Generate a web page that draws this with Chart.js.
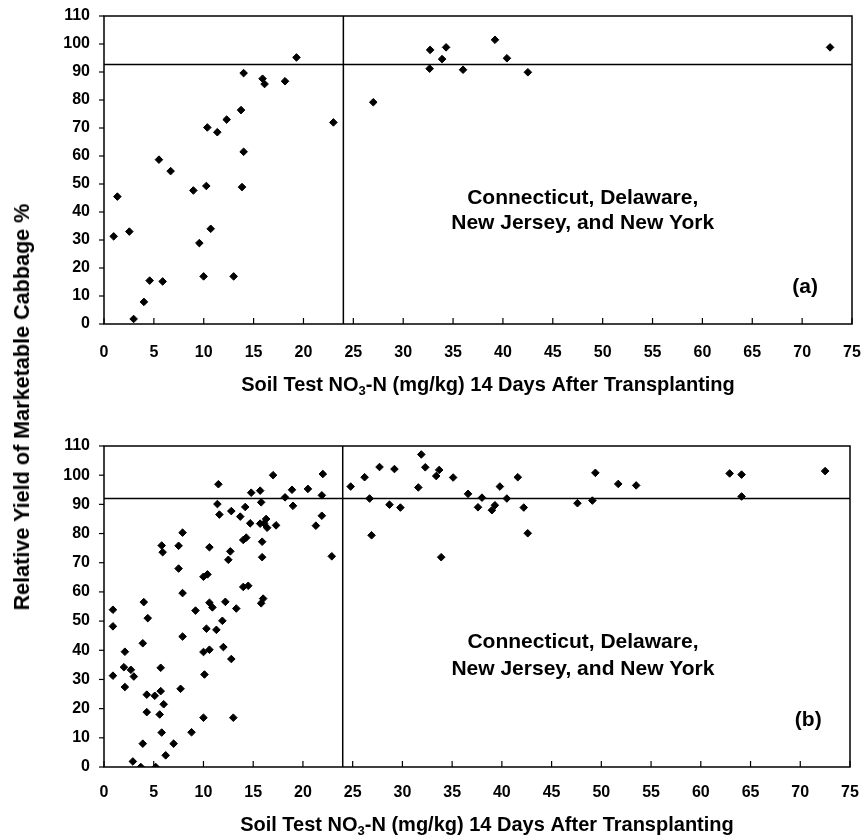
<!DOCTYPE html>
<html>
<head>
<meta charset="utf-8">
<script src="https://cdn.jsdelivr.net/npm/chart.js@4.4.1/dist/chart.umd.min.js"></script>
<style>
  body { margin: 0; background: #fff; width: 867px; height: 836px; position: relative; overflow: hidden;
         font-family: "Liberation Sans", Arial, sans-serif; }
  #wrapA { position: absolute; left: 0; top: 0; }
  #wrapB { position: absolute; left: 0; top: 405px; }
  #ytitle { position: absolute; left: 22px; top: 407px; transform: translate(-50%, -50%) rotate(-90deg);
            white-space: nowrap; font-weight: bold; font-size: 21.6px; color: #000; }
</style>
</head>
<body>
<div id="wrapA"><canvas id="chartA" width="867" height="405"></canvas></div>
<div id="wrapB"><canvas id="chartB" width="867" height="431"></canvas></div>
<div id="ytitle">Relative Yield of Marketable Cabbage %</div>
<script>
// --- donnees ---
// (a) : soil NO3-N (mg/kg) et rendement relatif (%)
const soilA = [0.97, 1.34, 2.54, 2.97, 4.0, 4.58, 5.88, 5.51, 6.68, 8.96, 9.56, 9.99, 10.26, 10.36, 10.7,
  11.36, 12.3, 13.0, 13.74, 13.84, 14.0, 14.0, 15.9, 16.1, 18.15, 19.3, 23.0, 27.0, 32.7, 32.65,
  33.9, 34.3, 36.0, 39.2, 40.4, 42.5, 72.8];
const yieldA = [31.3, 45.5, 33.0, 1.8, 7.9, 15.5, 15.2, 58.7, 54.6, 47.7, 28.9, 17.0, 49.3, 70.2, 34.0,
  68.5, 73.0, 17.0, 76.4, 48.9, 61.5, 89.6, 87.6, 85.7, 86.7, 95.2, 72.0, 79.2, 97.9, 91.2,
  94.6, 98.8, 90.8, 101.5, 94.9, 89.9, 98.8];

// (b)
const soilB = [0.9, 0.9, 0.9, 2.1, 2.0, 2.1, 2.7, 3.0, 2.9, 3.7, 3.9, 3.9, 4.0, 4.3, 4.3, 4.4, 5.1, 5.2,
  5.7, 5.7, 5.6, 5.8, 6.0, 5.8, 5.9, 6.2, 7.0, 7.5, 7.5, 7.9, 7.9, 7.9, 7.7, 8.8, 9.2, 10.0, 10.1, 10.0,
  10.0, 10.4, 10.3, 10.6, 10.6, 10.9, 10.6, 11.3, 11.4, 11.5, 11.6, 11.9, 12.0, 12.2, 12.5, 12.7, 12.8,
  12.8, 13.0, 13.3, 13.7, 14.2, 14.0, 14.3, 14.0, 14.5, 14.7, 14.8, 15.7, 15.8, 15.7, 15.9, 15.9, 15.8,
  16.0, 16.1, 16.3, 16.4, 17.3, 17.0, 18.2, 18.9, 19.0, 20.5, 21.3, 21.9, 22.0, 21.9, 22.9, 24.8, 26.2,
  26.7, 26.9, 27.7, 28.7, 29.2, 29.8, 31.6, 31.9, 32.3, 33.4, 33.7, 33.9, 35.1, 36.6, 37.6, 38.0, 39.0,
  39.3, 39.8, 40.5, 41.6, 42.2, 42.6, 47.6, 49.1, 49.4, 51.7, 53.5, 62.9, 64.1, 64.1, 72.5];
const yieldB = [53.9, 48.2, 31.3, 39.5, 34.2, 27.4, 33.3, 31.0, 1.9, 0, 8.0, 42.4, 56.5, 24.8, 18.8, 51.0, 24.4, 0,
  34.0, 26.0, 18.0, 11.8, 21.5, 75.9, 73.6, 4.0, 8.0, 75.8, 68.0, 59.6, 80.3, 44.7, 26.8, 11.9, 53.6, 16.9, 31.7, 39.4,
  65.2, 66.0, 47.4, 40.2, 56.3, 54.7, 75.3, 47.0, 90.1, 96.9, 86.5, 50.1, 41.1, 56.6, 71.0, 73.9, 87.7,
  37.0, 16.9, 54.3, 85.8, 89.1, 77.8, 78.6, 61.7, 62.1, 83.5, 94.0, 94.7, 90.7, 83.4, 77.2, 71.9, 56.1,
  57.7, 83.5, 85.0, 82.0, 82.8, 100.0, 92.4, 95.0, 89.5, 95.3, 82.7, 93.1, 100.4, 86.1, 72.2, 96.1, 99.3,
  92.0, 79.4, 102.8, 89.9, 102.1, 88.9, 95.8, 107.1, 102.7, 99.7, 101.8, 71.9, 99.2, 93.6, 89.0, 92.3, 88.0,
  89.7, 96.1, 92.0, 99.3, 88.9, 80.1, 90.4, 91.3, 100.8, 97.0, 96.5, 100.6, 100.2, 92.7, 101.4];

// seuils (lignes de reference)
const criticalN = 24;          // ligne verticale
const plateauA = 92.7;         // ligne horizontale (a)
const plateauB = 92.0;         // ligne horizontale (b)

const xTicks = { min: 0, max: 75, step: 5 };
const yTicks = { min: 0, max: 110, step: 10 };

const FONT = '"Liberation Sans", Arial, sans-serif';

// cadre, graduations et textes
const framePlugin = {
  id: 'frame',
  beforeDatasetsDraw(chart) {
    const { ctx, chartArea: a, scales: { x, y } } = chart;
    ctx.save();
    ctx.strokeStyle = '#000';
    ctx.lineWidth = 1.5;
    ctx.strokeRect(a.left, a.top, a.right - a.left, a.bottom - a.top);
    ctx.lineWidth = 1.2;
    // x : vers l'interieur
    x.ticks.forEach(t => {
      const px = x.getPixelForValue(t.value);
      ctx.beginPath();
      ctx.moveTo(px, a.bottom);
      ctx.lineTo(px, a.bottom - 6);
      ctx.stroke();
    });
    // y : vers l'exterieur
    y.ticks.forEach(t => {
      const py = y.getPixelForValue(t.value);
      ctx.beginPath();
      ctx.moveTo(a.left, py);
      ctx.lineTo(a.left - 5, py);
      ctx.stroke();
    });
    ctx.restore();
  },
  afterDraw(chart, args, opts) {
    const { ctx, chartArea: a, scales: { x, y } } = chart;
    ctx.save();
    ctx.fillStyle = '#000';
    ctx.textAlign = 'center';
    ctx.textBaseline = 'alphabetic';
    ctx.font = 'bold 21px ' + FONT;
    opts.notes.forEach(n => {
      ctx.fillText(n.text, x.getPixelForValue(n.x), y.getPixelForValue(n.y));
    });

    // titre de l'axe x avec indice
    const base = a.bottom + opts.titleOffset;
    const cx = x.getPixelForValue(opts.titleX);
    const p1 = 'Soil Test NO', sub = '3', p2 = '-N (mg/kg) 14 Days After Transplanting';
    const big = 'bold 20px ' + FONT, small = 'bold 13px ' + FONT;
    ctx.font = big; const w1 = ctx.measureText(p1).width, w3 = ctx.measureText(p2).width;
    ctx.font = small; const w2 = ctx.measureText(sub).width;
    let sx = cx - (w1 + w2 + w3) / 2;
    ctx.textAlign = 'left';
    ctx.font = big; ctx.fillText(p1, sx, base); sx += w1;
    ctx.font = small; ctx.fillText(sub, sx, base + 4); sx += w2;
    ctx.font = big; ctx.fillText(p2, sx, base);
    ctx.restore();
  }
};

function pts(xs, ys) {
  return xs.map((v, i) => ({ x: v, y: ys[i] }));
}

function makeChart(id, xs, ys, plateau, cfg) {
  const canvas = document.getElementById(id);
  return new Chart(canvas, {
    type: 'scatter',
    data: {
      datasets: [
        {
          data: pts(xs, ys),
          pointStyle: 'rectRot',
          pointRadius: 3.8,
          backgroundColor: '#000',
          borderColor: '#000',
          borderWidth: 1
        },
        {
          data: [{ x: xTicks.min, y: plateau }, { x: xTicks.max, y: plateau }],
          showLine: true, pointRadius: 0, borderColor: '#000', borderWidth: 1.5
        },
        {
          data: [{ x: criticalN, y: yTicks.min }, { x: criticalN, y: yTicks.max }],
          showLine: true, pointRadius: 0, borderColor: '#000', borderWidth: 1.5
        }
      ]
    },
    options: {
      responsive: false,
      animation: false,
      layout: { padding: { left: 0, top: cfg.top, right: cfg.right, bottom: 0 } },
      scales: {
        x: {
          type: 'linear', min: xTicks.min, max: xTicks.max,
          afterFit: s => { s.height = canvas.height - cfg.bottom; },
          // graduations invisibles : elles servent seulement a decaler les libelles
          grid: { drawOnChartArea: false, drawTicks: true, tickLength: cfg.xGap, color: 'rgba(0,0,0,0)' },
          border: { display: false },
          ticks: { stepSize: xTicks.step, padding: 3, color: '#000',
                   font: { family: FONT, size: 16, weight: 'bold' } }
        },
        y: {
          type: 'linear', min: yTicks.min, max: yTicks.max,
          afterFit: s => { s.width = 104; },
          grid: { drawOnChartArea: false, drawTicks: true, tickLength: 11, color: 'rgba(0,0,0,0)' },
          border: { display: false },
          ticks: { stepSize: yTicks.step, padding: 3, color: '#000',
                   font: { family: FONT, size: 16, weight: 'bold' } }
        }
      },
      plugins: {
        legend: { display: false },
        tooltip: { enabled: false },
        frame: { notes: cfg.notes, titleX: 38.5, titleOffset: cfg.titleOffset }
      }
    },
    plugins: [framePlugin]
  });
}

makeChart('chartA', soilA, yieldA, plateauA, {
  top: 16, right: 15, bottom: 324, xGap: 16, titleOffset: 67,
  notes: [
    { text: 'Connecticut, Delaware,', x: 48.0, y: 42.9 },
    { text: 'New Jersey, and New York', x: 48.0, y: 33.9 },
    { text: '(a)', x: 70.3, y: 11.1 }
  ]
});

makeChart('chartB', soilB, yieldB, plateauB, {
  top: 41, right: 17, bottom: 362, xGap: 13, titleOffset: 64,
  notes: [
    { text: 'Connecticut, Delaware,', x: 48.15, y: 40.8 },
    { text: 'New Jersey, and New York', x: 48.15, y: 31.5 },
    { text: '(b)', x: 70.8, y: 14.0 }
  ]
});
</script>
</body>
</html>
